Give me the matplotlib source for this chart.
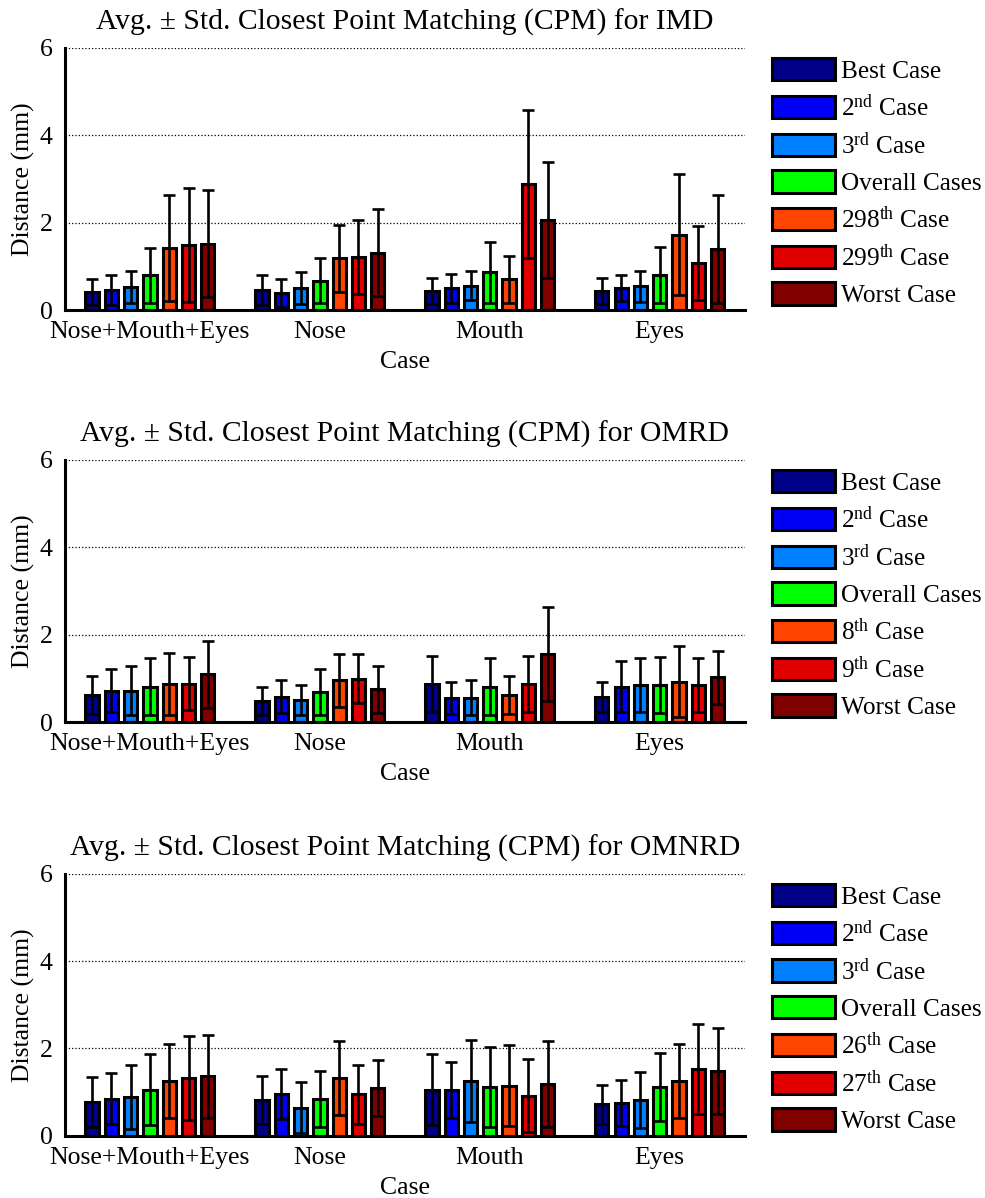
import matplotlib.pyplot as plt
import numpy as np

plt.rcParams['font.family'] = ['Liberation Serif', 'DejaVu Serif']
plt.rcParams['mathtext.fontset'] = 'custom'
plt.rcParams['mathtext.rm'] = 'Liberation Serif'
plt.rcParams['mathtext.it'] = 'Liberation Serif:italic'

groups = ['Nose+Mouth+Eyes', 'Nose', 'Mouth', 'Eyes']
colors = ['#000088', '#0000F5', '#0080FF', '#00FF00', '#FF4400', '#E00000', '#800000']

# IMD: rows = cases, columns = groups
imd_labels = ['Best Case', r'2$^{\mathrm{nd}}$ Case', r'3$^{\mathrm{rd}}$ Case', 'Overall Cases',
              r'298$^{\mathrm{th}}$ Case', r'299$^{\mathrm{th}}$ Case', 'Worst Case']
imd_mean = [[0.42, 0.46, 0.43, 0.43],
            [0.46, 0.39, 0.50, 0.50],
            [0.53, 0.50, 0.56, 0.54],
            [0.79, 0.67, 0.86, 0.80],
            [1.42, 1.18, 0.70, 1.72],
            [1.48, 1.22, 2.89, 1.08],
            [1.52, 1.31, 2.06, 1.39]]
imd_std = [[0.30, 0.34, 0.30, 0.30],
           [0.34, 0.31, 0.33, 0.30],
           [0.36, 0.36, 0.34, 0.36],
           [0.62, 0.51, 0.69, 0.65],
           [1.22, 0.76, 0.54, 1.38],
           [1.30, 0.85, 1.69, 0.84],
           [1.23, 0.99, 1.32, 1.24]]

# OMRD
omrd_labels = ['Best Case', r'2$^{\mathrm{nd}}$ Case', r'3$^{\mathrm{rd}}$ Case', 'Overall Cases',
               r'8$^{\mathrm{th}}$ Case', r'9$^{\mathrm{th}}$ Case', 'Worst Case']
omrd_mean = [[0.62, 0.48, 0.88, 0.58],
             [0.72, 0.58, 0.55, 0.81],
             [0.72, 0.51, 0.55, 0.85],
             [0.81, 0.68, 0.81, 0.85],
             [0.88, 0.95, 0.62, 0.92],
             [0.88, 0.99, 0.88, 0.85],
             [1.09, 0.75, 1.55, 1.02]]
omrd_std = [[0.44, 0.31, 0.64, 0.34],
            [0.50, 0.37, 0.37, 0.58],
            [0.57, 0.34, 0.40, 0.61],
            [0.65, 0.53, 0.65, 0.64],
            [0.71, 0.60, 0.44, 0.81],
            [0.61, 0.56, 0.64, 0.61],
            [0.76, 0.54, 1.08, 0.61]]

# OMNRD
omnrd_labels = ['Best Case', r'2$^{\mathrm{nd}}$ Case', r'3$^{\mathrm{rd}}$ Case', 'Overall Cases',
                r'26$^{\mathrm{th}}$ Case', r'27$^{\mathrm{th}}$ Case', 'Worst Case']
omnrd_mean = [[0.78, 0.82, 1.06, 0.72],
              [0.85, 0.95, 1.06, 0.75],
              [0.89, 0.65, 1.26, 0.82],
              [1.06, 0.85, 1.12, 1.12],
              [1.26, 1.32, 1.15, 1.26],
              [1.32, 0.95, 0.92, 1.53],
              [1.36, 1.09, 1.19, 1.49]]
omnrd_std = [[0.57, 0.54, 0.82, 0.45],
             [0.58, 0.57, 0.64, 0.53],
             [0.74, 0.58, 0.94, 0.64],
             [0.81, 0.64, 0.91, 0.78],
             [0.85, 0.84, 0.93, 0.84],
             [0.96, 0.68, 0.84, 1.02],
             [0.95, 0.64, 0.98, 0.98]]

panels = [('IMD', imd_labels, imd_mean, imd_std),
          ('OMRD', omrd_labels, omrd_mean, omrd_std),
          ('OMNRD', omnrd_labels, omnrd_mean, omnrd_std)]

fig = plt.figure(figsize=(9.85, 11.98), dpi=100)
bottoms = [0.7412, 0.3973, 0.0518]
fs = 18.5

x = np.arange(1, len(groups) + 1)
pitch = 0.1135
width = 0.078

for (name, labels, means, stds), b in zip(panels, bottoms):
    ax = fig.add_axes([0.066, b, 0.690, 0.219])
    for i in range(len(labels)):
        xi = x + (i - 3) * pitch
        ax.bar(xi, means[i], width, color=colors[i], edgecolor='black',
               linewidth=2.2, label=labels[i], zorder=2)
        ax.errorbar(xi, means[i], yerr=stds[i], fmt='none', ecolor='black',
                    elinewidth=1.9, capsize=4.5, capthick=1.9, zorder=3)
    ax.set_xlim(0.5, 4.5)
    ax.set_ylim(0, 6)
    ax.set_yticks([0, 2, 4, 6])
    ax.set_xticks(x)
    ax.set_xticklabels(groups, fontsize=fs)
    ax.tick_params(axis='x', length=0, pad=8)
    ax.tick_params(axis='y', direction='in', length=0, labelsize=fs, pad=9)
    ax.yaxis.grid(True, linestyle=':', color='black', linewidth=0.9, zorder=0)
    ax.set_axisbelow(True)
    for s in ['top', 'right']:
        ax.spines[s].set_visible(False)
    ax.spines['left'].set_linewidth(2.2)
    ax.spines['bottom'].set_linewidth(2.2)
    ax.set_xlabel('Case', fontsize=fs, labelpad=6)
    ax.set_ylabel('Distance (mm)', fontsize=fs, labelpad=3)
    ax.set_title('Avg. \u00b1 Std. Closest Point Matching (CPM) for ' + name,
                 fontsize=21.3, pad=13)
    leg = ax.legend(loc='upper left', bbox_to_anchor=(1.025, 1.0), frameon=False,
                    fontsize=18.2, handlelength=2.5, handleheight=1.0,
                    labelspacing=0.45, handletextpad=0.25, borderaxespad=0)
    for h in leg.legend_handles:
        h.set_linewidth(2.2)

fig.savefig('out.png', dpi=100)
